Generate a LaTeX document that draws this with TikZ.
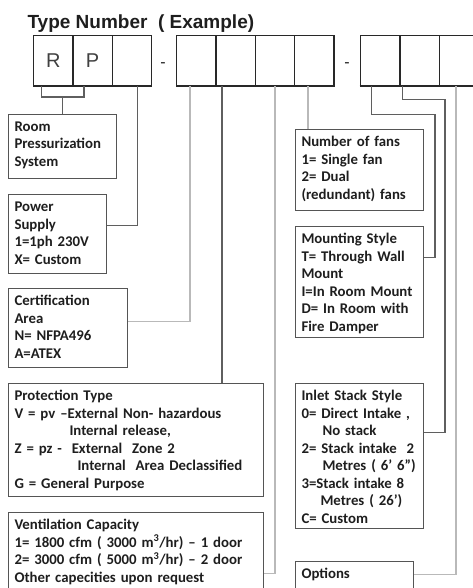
\documentclass[tikz,border=0pt]{standalone}
\usepackage{fontspec}
\usetikzlibrary{calc}
\newfontfamily\boxfont{Carlito}
\newfontfamily\headfont{Liberation Sans}
\definecolor{ink}{RGB}{30,30,30}
\definecolor{cellline}{RGB}{40,40,40}
\definecolor{boxline}{RGB}{85,85,85}
\definecolor{linkdark}{RGB}{95,95,95}
\definecolor{linkpale}{RGB}{185,185,185}
\newcommand{\boxtext}{\boxfont\bfseries\fontsize{14.8}{17.5}\selectfont\hyphenpenalty=10000}
\tikzset{
  cell/.style={draw=cellline, line width=1.2pt, minimum width=39.3pt, minimum height=50pt,
    anchor=north west, inner sep=0pt, text=ink!85, font=\headfont\fontsize{20}{20}\selectfont},
  infobox/.style 2 args={draw=boxline, line width=1pt, anchor=north west, inner xsep=6pt,
    inner ysep=4pt, text width=#1, text height=13pt, text depth=#2, align=left,
    text=ink, font=\boxtext},
  link/.style={draw=linkdark, line width=1.2pt},
  linkpale/.style={draw=linkpale, line width=1.6pt}
}

\begin{document}
\begin{tikzpicture}[x=1pt,y=-1pt]
  \useasboundingbox (0,0) rectangle (473,588);
  \node[anchor=base west, text=ink, font=\headfont\bfseries\fontsize{19}{19}\selectfont] (title) at (24,29) {Type Number\ \ ( Example)};
  % code cells
  \foreach \name/\x/\txt in {r/33/R, p/72.3/P, ps/111.6/{}, ca/176/{}, pt/215.3/{}, vc/254.6/{},
      nf/294/{}, ms/359.5/{}, is/399.3/{}, op/439/{}}{
    \node[cell] (\name) at (\x,35) {\txt};
  }
  \draw[cellline, line width=2.2pt] (r.south west) -- (ps.south east);
  \draw[cellline, line width=2.2pt] (ca.south west) -- (nf.south east);
  \draw[cellline, line width=2.2pt] (ms.south west) -- (op.south east);
  \node[text=ink, font=\headfont\fontsize{16}{16}\selectfont] (dasha) at (163,65) {-};
  \node[text=ink, font=\headfont\fontsize{16}{16}\selectfont] (dashb) at (347,65) {-};

  % left column
  \node[infobox={96pt}{43pt}] (room) at (8,114) {Room\\Pressurization\\System};
  \node[infobox={86pt}{58pt}] (power) at (8,194) {Power\\Supply\\1=1ph 230V\\X= Custom};
  \node[infobox={107pt}{58pt}] (cert) at (8,288) {Certification\\Area\\N= NFPA496\\A=ATEX};
  \node[infobox={243pt}{92pt}] (prot) at (8,383) {Protection Type\\
    V = pv –External Non- hazardous\\
    \hspace*{55pt}Internal release,\\
    Z = pz -\ \ External\ \ Zone 2\\
    \hspace*{63pt}Internal\ \ Area Declassified\\
    G = General Purpose};
  \node[infobox={243pt}{67pt}] (vent) at (8,512) {Ventilation Capacity\\
    \mbox{1= 1800 cfm ( 3000 m\textsuperscript{3}/hr) – 1 door}\\
    \mbox{2= 3000 cfm ( 5000 m\textsuperscript{3}/hr) – 2 door}\\
    Other capecities upon request};

  % right column
  \node[infobox={116pt}{60pt}] (fans) at (295,129) {Number of fans\\1= Single fan\\2= Dual\\(redundant) fans};
  \node[infobox={116pt}{90pt}] (mount) at (295,226) {Mounting Style\\T= Through Wall\\Mount\\I=In Room Mount\\D= In Room with\\Fire Damper};
  \node[infobox={116pt}{124pt}] (inlet) at (295,383) {Inlet Stack Style\\
    0= Direct Intake ,\\
    \hspace*{21pt}No stack\\
    \mbox{2= Stack intake\ \ 2}\\
    \hspace*{21pt}\mbox{Metres ( 6’ 6”)}\\
    3=Stack intake 8\\
    \hspace*{19pt}\mbox{Metres ( 26’)}\\
    C= Custom};
  \node[infobox={106pt}{18pt}] (opts) at (295,561) {Options};

  % connectors
  \coordinate (rpjoin) at ($(room.north)+(0,-17)$);
  \draw[link] ([xshift=-11.5]r.south) |- (rpjoin) -| ([xshift=-8.5]p.south);
  \draw[link] (rpjoin) -- (room.north);
  \draw[link] ([xshift=5.5]ps.south) |- ([yshift=8.5]power.east);
  \draw[linkpale] ([xshift=-6.5]ca.south) |- ([yshift=6.5]cert.east);
  \draw[link] ([xshift=-13.5]pt.south) -- ([xshift=-13.5]pt.south |- prot.north);
  \draw[linkpale] (vc.south) |- ([yshift=-17]vent.east);
  \draw[linkpale] ([xshift=-6.5]nf.south) -- ([xshift=-6.5]nf.south |- fans.north);
  \draw[link] ([xshift=-8]ms.south) -- ++(0,28) -| ([xshift=11,yshift=24.5]mount.east) -- ([yshift=24.5]mount.east);
  \draw[link] ([xshift=-17]is.south) -- ++(0,13) -| ([xshift=21,yshift=23.5]inlet.east) -- ([yshift=23.5]inlet.east);
  \draw[linkpale] ([xshift=-3]op.south) |- ([yshift=6.5]opts.east);
\end{tikzpicture}
\end{document}
